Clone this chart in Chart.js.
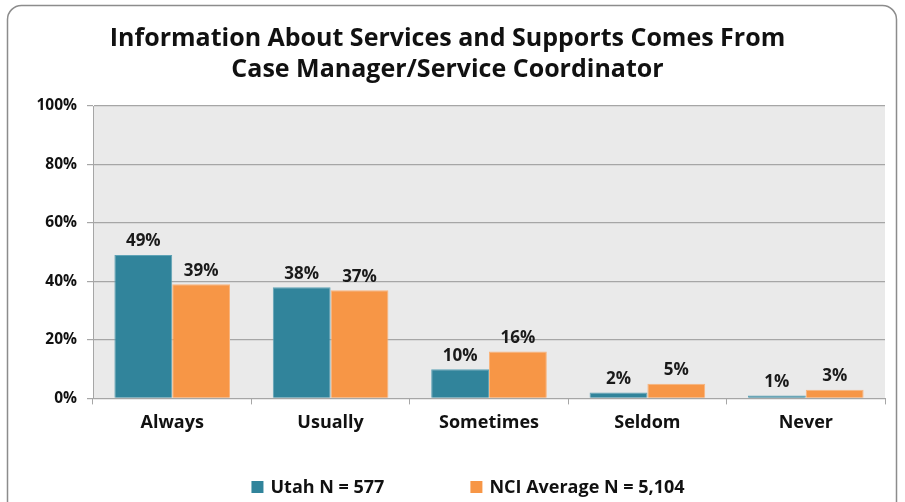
<!DOCTYPE html>
<html>
<head>
<meta charset="utf-8">
<script src="https://cdn.jsdelivr.net/npm/chart.js@4"></script>
<style>
  html, body { margin: 0; padding: 0; background: #fff; }
  #wrap { width: 905px; height: 502px; position: relative; }
</style>
</head>
<body>
<div id="wrap"><canvas id="grafica" width="905" height="502"></canvas></div>
<script>
const categorias = ['Always', 'Usually', 'Sometimes', 'Seldom', 'Never'];
const utah = [49, 38, 10, 2, 1];
const nci = [39, 37, 16, 5, 3];
const nombresSerie = ['Utah N = 577', 'NCI Average N = 5,104'];
const ticksY = [0, 20, 40, 60, 80, 100];

const fuente = '"Open Sans", "DejaVu Sans", sans-serif';

// marco redondeado y fondo gris del area de datos
const marco = {
    id: 'marco',
    beforeDraw(chart) {
        const c = chart.ctx;
        const a = chart.chartArea;
        c.save();
        c.fillStyle = '#EAEAEA';
        c.fillRect(a.left, a.top, a.right - a.left, a.bottom - a.top);
        c.strokeStyle = '#8C8C8C';
        c.lineWidth = 1.5;
        c.beginPath();
        c.roundRect(7.5, 5.5, 889, 520, 14);
        c.stroke();
        c.restore();
    }
};

// etiquetas de valor encima de cada barra
const etiquetas = {
    id: 'etiquetas',
    afterDatasetsDraw(chart) {
        const c = chart.ctx;
        c.save();
        c.font = 'bold 17px ' + fuente;
        c.fillStyle = '#1a1a1a';
        c.textAlign = 'center';
        c.textBaseline = 'bottom';
        chart.data.datasets.forEach((ds, i) => {
            chart.getDatasetMeta(i).data.forEach((bar, j) => {
                c.fillText(ds.data[j] + '%', bar.x, bar.y - 5);
            });
        });
        c.restore();
    }
};

// leyenda inferior dibujada a mano (mas espacio entre elementos)
const leyenda = {
    id: 'leyenda',
    afterDraw(chart) {
        const c = chart.ctx;
        c.save();
        c.font = 'bold 18px ' + fuente;
        c.textBaseline = 'middle';
        const caja = 12, hueco = 7, separacion = 86, y = 487;
        const anchos = chart.data.datasets.map(ds => c.measureText(ds.label).width);
        const total = anchos.reduce((s, w) => s + caja + hueco + w, 0) + separacion;
        let x = 468 - total / 2;
        chart.data.datasets.forEach((ds, i) => {
            c.fillStyle = ds.backgroundColor;
            c.fillRect(x, y - caja / 2, caja, caja);
            c.fillStyle = '#111';
            c.fillText(ds.label, x + caja + hueco, y + 1);
            x += caja + hueco + anchos[i] + separacion;
        });
        c.restore();
    }
};

new Chart(document.getElementById('grafica'), {
    type: 'bar',
    data: {
        labels: categorias,
        datasets: [
            { label: nombresSerie[0], data: utah, backgroundColor: '#31849B', borderColor: '#5FA3B6', borderWidth: 1 },
            { label: nombresSerie[1], data: nci, backgroundColor: '#F79646', borderColor: '#F9B47C', borderWidth: 1 }
        ]
    },
    options: {
        responsive: false,
        animation: false,
        datasets: { bar: { categoryPercentage: 0.73, barPercentage: 1 } },
        layout: { padding: { left: 10, right: 20, top: 13, bottom: 60 } },
        plugins: {
            title: {
                display: true,
                text: ['Information About Services and Supports Comes From', 'Case Manager/Service Coordinator'],
                color: '#111',
                font: { family: fuente, size: 25, weight: 'bold', lineHeight: 1.24 },
                padding: { top: 10, bottom: 21 }
            },
            legend: { display: false },
            tooltip: { enabled: false }
        },
        scales: {
            y: {
                min: 0,
                max: 100,
                afterBuildTicks(axis) { axis.ticks = ticksY.map(v => ({ value: v })); },
                afterFit(axis) { axis.width = 83; },
                ticks: {
                    color: '#111',
                    font: { family: fuente, size: 15.5, weight: 'bold' },
                    padding: 10,
                    callback: v => v + '%'
                },
                grid: { color: '#A6A6A6', tickLength: 6, lineWidth: 1.2 },
                border: { color: '#A6A6A6' }
            },
            x: {
                ticks: {
                    color: '#111',
                    font: { family: fuente, size: 18, weight: 'bold' },
                    padding: 8
                },
                grid: { drawOnChartArea: false, color: '#A6A6A6', tickLength: 6, offset: true },
                border: { color: '#A6A6A6' }
            }
        }
    },
    plugins: [marco, etiquetas, leyenda]
});
</script>
</body>
</html>
